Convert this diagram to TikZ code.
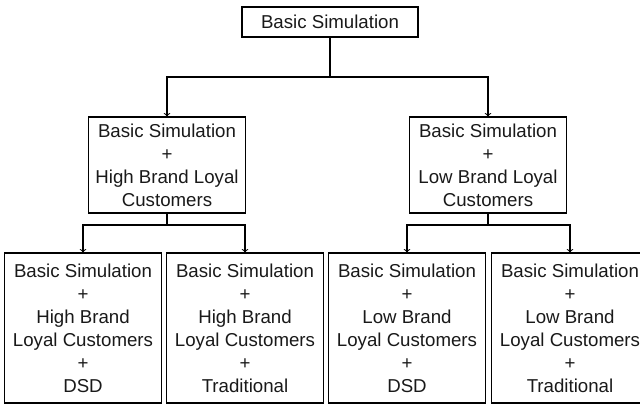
\documentclass[tikz,border=0pt]{standalone}
\usepackage{fontspec}
\setmainfont{Liberation Sans}
\begin{document}
\begin{tikzpicture}[
	x=0.75pt, y=-0.75pt,
	topbox/.style={draw, rectangle, minimum width=132pt, minimum height=22.5pt, inner sep=0pt},
	midbox/.style={draw, rectangle, minimum width=117.75pt, minimum height=72pt, inner sep=0pt, align=center},
	leafbox/.style={draw, rectangle, minimum width=117.75pt, minimum height=112.5pt, inner sep=0pt, align=center},
	every node/.style={font=\fontsize{14}{17.2}\selectfont, text=black!90},
	>=to, line width=0.8pt
	]
	
	%-----------------------
	% Frame (reference is cut at the right edge)
	%-----------------------
	\useasboundingbox (0,0) rectangle (640,405);
	\clip (0,0) rectangle (640,405);
	
	%-----------------------
	% Customizable heights
	%-----------------------
	\def\htop{22}     % Row 1: basic simulation
	\def\hbusA{77}    % bus below row 1
	\def\hmid{165}    % Row 2: brand loyalty
	\def\hbusB{225}   % bus below row 2
	\def\hleaf{328}   % Row 3: channel
	
	%-----------------------
	% Row 1: basic simulation
	%-----------------------
	\node[topbox] (Base) at (330,\htop) {Basic Simulation};
	
	%-----------------------
	% Row 2: high / low brand loyal
	%-----------------------
	\node[midbox] (High) at (167,\hmid) {Basic Simulation\\+\\High Brand Loyal\\Customers};
	\node[midbox] (Low)  at (488,\hmid) {Basic Simulation\\+\\Low Brand Loyal\\Customers};
	
	%-----------------------
	% Row 3: DSD / traditional
	%-----------------------
	\node[leafbox] (HighDSD)  at ( 83,\hleaf) {Basic Simulation\\+\\High Brand\\Loyal Customers\\+\\DSD};
	\node[leafbox] (HighTrad) at (245,\hleaf) {Basic Simulation\\+\\High Brand\\Loyal Customers\\+\\Traditional};
	\node[leafbox] (LowDSD)   at (407,\hleaf) {Basic Simulation\\+\\Low Brand\\Loyal Customers\\+\\DSD};
	\node[leafbox] (LowTrad)  at (570,\hleaf) {Basic Simulation\\+\\Low Brand\\Loyal Customers\\+\\Traditional};
	
	%-----------------------
	% Bus junctions
	%-----------------------
	\coordinate (jBase) at (Base.south |- 0,\hbusA);
	\coordinate (jHigh) at (High.south |- 0,\hbusB);
	\coordinate (jLow)  at (Low.south  |- 0,\hbusB);
	
	%-----------------------
	% Connections
	%-----------------------
	\tikzset{connect/.style={->}}
	
	% Base -> row 2
	\draw[connect] (Base.south) -- (jBase) -| (High.north);
	\draw[connect] (Base.south) -- (jBase) -| (Low.north);
	
	% High -> leaves
	\draw[connect] (High.south) -- (jHigh) -| (HighDSD.north);
	\draw[connect] (High.south) -- (jHigh) -| (HighTrad.north);
	
	% Low -> leaves
	\draw[connect] (Low.south) -- (jLow) -| (LowDSD.north);
	\draw[connect] (Low.south) -- (jLow) -| (LowTrad.north);
	
\end{tikzpicture}
\end{document}
